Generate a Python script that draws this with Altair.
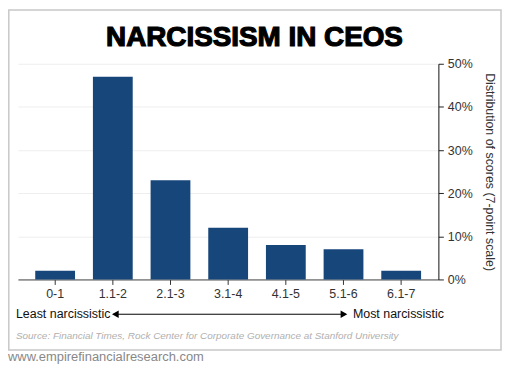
import altair as alt
import pandas as pd

categories = ["0-1", "1.1-2", "2.1-3", "3.1-4", "4.1-5", "5.1-6", "6.1-7"]
shares = [0.02, 0.47, 0.23, 0.12, 0.08, 0.07, 0.02]
y_ticks = [0, 0.1, 0.2, 0.3, 0.4, 0.5]

title_text = "NARCISSISM IN CEOS"
left_label = "Least narcissistic"
right_label = "Most narcissistic"
source_text = "Source: Financial Times, Rock Center for Corporate Governance at Stanford University"
footer_text = "www.empirefinancialresearch.com"
y_title = "Distribution of scores (7-point scale)"

df = pd.DataFrame({"score": categories, "share": shares})
one = pd.DataFrame({"k": [0]})
FONT = "Liberation Sans"

bars = alt.Chart(df).mark_bar(color="#16467a").encode(
    x=alt.X("score:N", sort=categories,
            scale=alt.Scale(paddingInner=0.31, paddingOuter=0.3),
            axis=alt.Axis(title=None, labelAngle=0, labelFontSize=12.5, labelColor="#333",
                          labelFont=FONT, tickColor="#333", tickSize=5, domainColor="#444",
                          labelPadding=3, grid=False)),
    y=alt.Y("share:Q", scale=alt.Scale(domain=[0, 0.5]),
            axis=alt.Axis(orient="right", values=y_ticks, format=".0%", title=y_title,
                          titleFont=FONT, titleFontWeight="normal", titleFontSize=12.5,
                          titleColor="#333", titlePadding=10, labelFont=FONT,
                          labelFontSize=12.5, labelColor="#333", tickColor="#222",
                          tickSize=5, labelPadding=4, domainColor="#111",
                          gridColor="#eeeeee", grid=True)),
)

frame = alt.Chart(one).mark_rect(fill=None, stroke="#c8c8c8", strokeWidth=1.5, clip=False).encode(
    x=alt.value(-9.2), x2=alt.value(486), y=alt.value(-54.2), y2=alt.value(288)
)

def txt(text, x, y, **kw):
    return alt.Chart(one).mark_text(text=text, font=FONT, clip=False, **kw).encode(
        x=alt.value(x), y=alt.value(y))

title = txt(title_text, 238, -18, fontSize=28, fontWeight="bold", color="#000",
            stroke="#000", strokeWidth=1.2, align="center", baseline="alphabetic")
least = txt(left_label, -2, 252, fontSize=12.5, color="#111", align="left", baseline="middle")
most = txt(right_label, 337, 252, fontSize=12.5, color="#111", align="left", baseline="middle")
source = txt(source_text, -2, 274, fontSize=10, fontStyle="italic", color="#b0b0b0",
             align="left", baseline="middle")
footer = txt(footer_text, -10, 295, fontSize=13, color="#888", align="left", baseline="middle")

arrow_line = alt.Chart(one).mark_rule(color="#000", strokeWidth=1, clip=False).encode(
    x=alt.value(96), x2=alt.value(330), y=alt.value(252))
head_l = alt.Chart(one).mark_point(shape="triangle-left", filled=True, color="#000",
                                   size=60, opacity=1, clip=False).encode(
    x=alt.value(98), y=alt.value(252))
head_r = alt.Chart(one).mark_point(shape="triangle-right", filled=True, color="#000",
                                   size=60, opacity=1, clip=False).encode(
    x=alt.value(328), y=alt.value(252))

chart = alt.layer(frame, bars, title, least, most, source, footer, arrow_line, head_l, head_r).properties(
    width=423, height=217,
    autosize=alt.AutoSizeParams(type="none"),
    padding={"left": 10, "top": 55, "right": 64, "bottom": 90},
    background="white",
).configure_view(stroke=None)

chart.save("out.html", embed_options={"renderer": "svg", "actions": False})
